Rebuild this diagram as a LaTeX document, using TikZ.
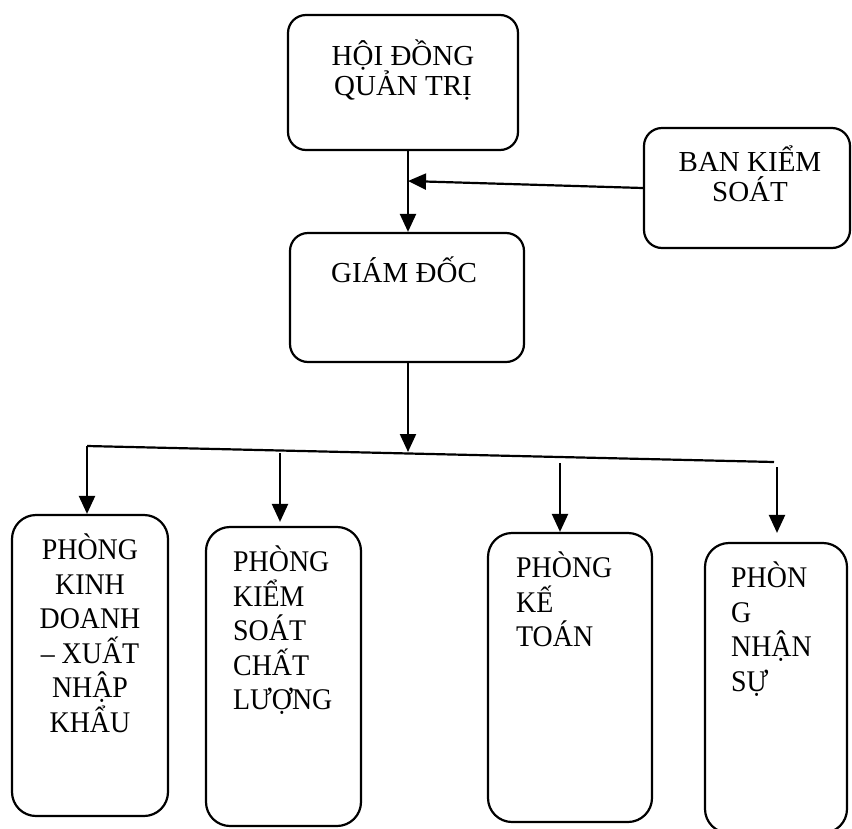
\documentclass[tikz,border=0pt]{standalone}
\usepackage{fontspec}
\setmainfont{Liberation Serif}
\usetikzlibrary{arrows.meta}
\begin{document}
\begin{tikzpicture}[x=1pt,y=-1pt,
  box/.style={draw,line width=2.2pt,rounded corners=18pt,inner sep=0pt},
  topfont/.style={font=\fontsize{29}{30}\selectfont,inner sep=0pt},
  lowfont/.style={font=\addfontfeature{FakeStretch=0.93}\fontsize{30}{34.5}\selectfont,inner sep=0pt},
  conn/.style={line width=2.2pt},
  arr/.style={conn,-{Triangle[length=18pt,width=16pt]}}]
\useasboundingbox (0,0) rectangle (852,828);
% boxes
\node[box,minimum width=230pt,minimum height=135pt] (hdqt) at (403,82.5) {};
\node[box,minimum width=234pt,minimum height=129pt] (gd) at (407,297.5) {};
\node[box,minimum width=206pt,minimum height=120pt] (bks) at (747,188) {};
\node[box,rounded corners=24pt,minimum width=156pt,minimum height=301pt] (b1) at (90,665.5) {};
\node[box,rounded corners=24pt,minimum width=155pt,minimum height=299pt] (b2) at (283.5,676.5) {};
\node[box,rounded corners=24pt,minimum width=164pt,minimum height=289pt] (b3) at (570,677.5) {};
\node[box,rounded corners=24pt,minimum width=142pt,minimum height=290pt] (b4) at (776,688) {};
% texts
\node[topfont,align=center,anchor=north] (thdqt) at (403,40) {HỘI ĐỒNG\\QUẢN TRỊ};
\node[topfont,anchor=north] (tgd) at (404,257) {GIÁM ĐỐC};
\node[topfont,align=center,anchor=north] (tbks) at (750,146) {BAN KIỂM\\SOÁT};
\node[lowfont,align=center,anchor=north] (t1) at (90,534) {PHÒNG\\KINH\\DOANH\\– XUẤT\\NHẬP\\KHẨU};
\node[lowfont,align=left,anchor=north west] (t2) at (233,546) {PHÒNG\\KIỂM\\SOÁT\\CHẤT\\LƯỢNG};
\node[lowfont,align=left,anchor=north west] (t3) at (516,552) {PHÒNG\\KẾ\\TOÁN};
\node[lowfont,align=left,anchor=north west] (t4) at (731,562) {PHÒN\\G\\NHẬN\\SỰ};
% connectors
\coordinate (j) at (408,181);
\coordinate (hl) at (87,446);
\coordinate (hm) at (408,452);
\coordinate (hr) at (774,462);
\coordinate (s2) at (280,453);
\coordinate (s3) at (560,463);
\coordinate (s4) at (777,467);
\draw[arr] (hdqt.south -| j) -- (gd.north -| j);
\draw[arr] (bks.west) -- (j);
\draw[arr] (gd.south -| hm) -- (hm);
\draw[conn] (hl) -- (hr);
\draw[arr] (hl) -- (b1.north -| hl);
\draw[arr,shorten >=4pt] (s2) -- (b2.north -| s2);
\draw[arr] (s3) -- (b3.north -| s3);
\draw[arr,shorten >=9pt] (s4) -- (b4.north -| s4);
\end{tikzpicture}
\end{document}
